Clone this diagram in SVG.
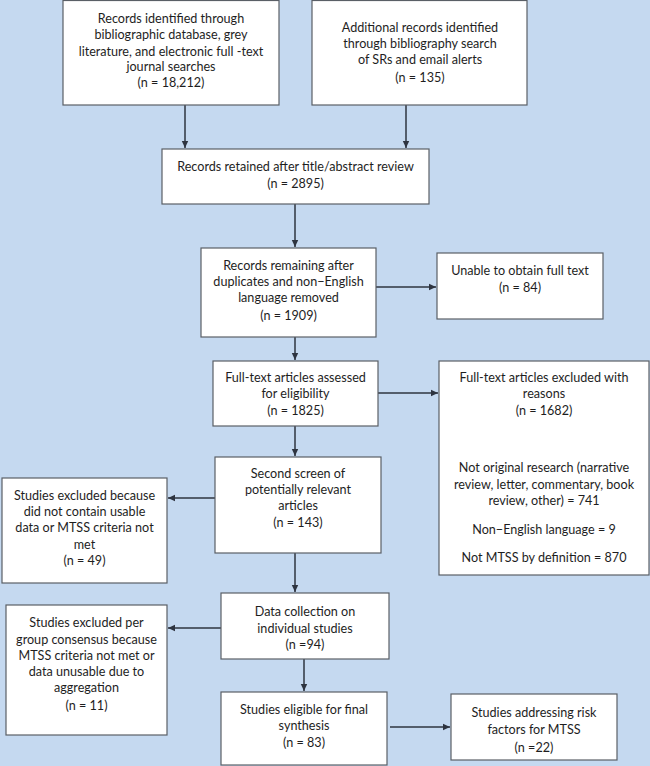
<svg xmlns="http://www.w3.org/2000/svg" width="650" height="766" viewBox="0 0 650 766">
<defs>
<marker id="ah" markerWidth="8" markerHeight="8" refX="7" refY="4" orient="auto" markerUnits="userSpaceOnUse">
<path d="M0,0.8 L7,4 L0,7.2 Z" fill="#2e3440"/>
</marker>
</defs>
<style>
.box{fill:#ffffff;stroke:#5a5f66;stroke-width:1.2}
.t{font-family:Lato,"Open Sans","Liberation Sans",sans-serif;font-size:12.6px;fill:#1e1e1e;text-anchor:middle}
.c{stroke:#2e3440;stroke-width:1.5;fill:none;marker-end:url(#ah)}
</style>
<rect x="0" y="0" width="650" height="766" fill="#c5d9f0"/>
<g id="connectors">
<path class="c" d="M185,105 V148"/>
<path class="c" d="M406,105 V148"/>
<path class="c" d="M295,204 V247"/>
<path class="c" d="M376,287 H436"/>
<path class="c" d="M295,337 V360"/>
<path class="c" d="M378,393 H438"/>
<path class="c" d="M295,426 V456"/>
<path class="c" d="M215,498 H168"/>
<path class="c" d="M295,553 V592"/>
<path class="c" d="M221,628 H168"/>
<path class="c" d="M304,659 V691"/>
<path class="c" d="M390,727 H450"/>
</g>
<g id="n1">
<rect class="box" x="63" y="0.5" width="216" height="104.5"/>
<text class="t" x="171"><tspan x="171" y="23">Records identified through</tspan><tspan x="171" y="39">bibliographic database, grey</tspan><tspan x="171" y="56">literature, and electronic full -text</tspan><tspan x="171" y="71">journal searches</tspan><tspan x="171" y="87">(n = 18,212)</tspan></text>
</g>
<g id="n2">
<rect class="box" x="312" y="0.5" width="215" height="104.5"/>
<text class="t" x="420"><tspan x="420" y="32">Additional records identified</tspan><tspan x="420" y="48">through bibliography search</tspan><tspan x="420" y="64">of SRs and email alerts</tspan><tspan x="420" y="82">(n = 135)</tspan></text>
</g>
<g id="n3">
<rect class="box" x="162" y="149" width="267" height="55"/>
<text class="t" x="295.5"><tspan x="295.5" y="171">Records retained after title/abstract review</tspan><tspan x="295.5" y="188">(n = 2895)</tspan></text>
</g>
<g id="n4">
<rect class="box" x="201" y="248" width="175" height="89"/>
<text class="t" x="288.5"><tspan x="288.5" y="270">Records remaining after</tspan><tspan x="288.5" y="286">duplicates and non−English</tspan><tspan x="288.5" y="302">language removed</tspan><tspan x="288.5" y="320">(n = 1909)</tspan></text>
</g>
<g id="n5">
<rect class="box" x="437" y="253" width="166" height="66"/>
<text class="t" x="520"><tspan x="520" y="275">Unable to obtain full text</tspan><tspan x="520" y="292">(n = 84)</tspan></text>
</g>
<g id="n6">
<rect class="box" x="213" y="361" width="165" height="65"/>
<text class="t" x="295.5"><tspan x="295.5" y="382">Full-text articles assessed</tspan><tspan x="295.5" y="398">for eligibility</tspan><tspan x="295.5" y="415">(n = 1825)</tspan></text>
</g>
<g id="n7">
<rect class="box" x="439" y="361" width="210" height="214"/>
<text class="t" x="544"><tspan x="544" y="382">Full-text articles excluded with</tspan><tspan x="544" y="398">reasons</tspan><tspan x="544" y="415">(n = 1682)</tspan><tspan x="544" y="472">Not original research (narrative</tspan><tspan x="544" y="489">review, letter, commentary, book</tspan><tspan x="544" y="505">review, other) = 741</tspan><tspan x="544" y="534">Non−English language = 9</tspan><tspan x="544" y="562">Not MTSS by definition = 870</tspan></text>
</g>
<g id="n8">
<rect class="box" x="215" y="457" width="166" height="96"/>
<text class="t" x="298"><tspan x="298" y="478">Second screen of</tspan><tspan x="298" y="494">potentially relevant</tspan><tspan x="298" y="510">articles</tspan><tspan x="298" y="527">(n = 143)</tspan></text>
</g>
<g id="n9">
<rect class="box" x="2" y="478" width="165" height="105"/>
<text class="t" x="84.5"><tspan x="84.5" y="500">Studies excluded because</tspan><tspan x="84.5" y="516">did not contain usable</tspan><tspan x="84.5" y="532">data or MTSS criteria not</tspan><tspan x="84.5" y="549">met</tspan><tspan x="84.5" y="565">(n = 49)</tspan></text>
</g>
<g id="n10">
<rect class="box" x="221" y="593" width="168" height="66"/>
<text class="t" x="305"><tspan x="305" y="616">Data collection on</tspan><tspan x="305" y="633">individual studies</tspan><tspan x="305" y="649">(n =94)</tspan></text>
</g>
<g id="n11">
<rect class="box" x="6" y="605" width="161" height="130"/>
<text class="t" x="86.5"><tspan x="86.5" y="627">Studies excluded per</tspan><tspan x="86.5" y="644">group consensus because</tspan><tspan x="86.5" y="660">MTSS criteria not met or</tspan><tspan x="86.5" y="676">data unusable due to</tspan><tspan x="86.5" y="692">aggregation</tspan><tspan x="86.5" y="710">(n = 11)</tspan></text>
</g>
<g id="n12">
<rect class="box" x="221" y="692" width="166" height="73"/>
<text class="t" x="304"><tspan x="304" y="714">Studies eligible for final</tspan><tspan x="304" y="730">synthesis</tspan><tspan x="304" y="747">(n = 83)</tspan></text>
</g>
<g id="n13">
<rect class="box" x="451" y="694" width="166" height="66"/>
<text class="t" x="534"><tspan x="534" y="717">Studies addressing risk</tspan><tspan x="534" y="734">factors for MTSS</tspan><tspan x="534" y="752">(n =22)</tspan></text>
</g>
</svg>
